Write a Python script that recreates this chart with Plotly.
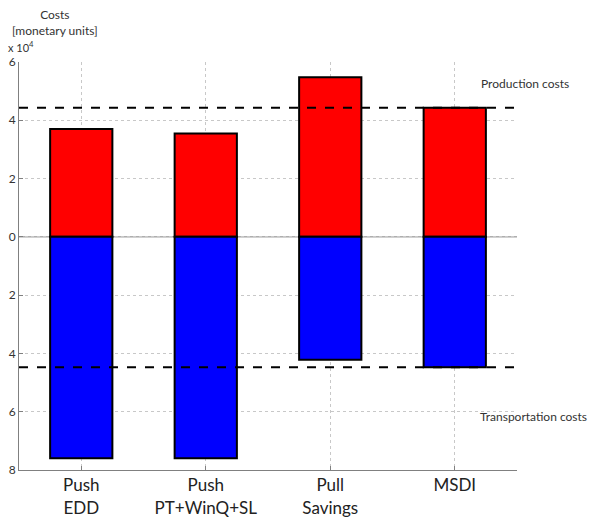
import plotly.graph_objects as go

categories = ["Push<br>EDD", "Push<br>PT+WinQ+SL", "Pull<br>Savings", "MSDI"]
positions = [1, 2, 3, 4]
production_costs = [3.70, 3.55, 5.48, 4.43]       # x 10^4
transportation_costs = [7.60, 7.60, 4.22, 4.47]   # x 10^4 (plotted downward)
production_ref = 4.43
transportation_ref = 4.47
ytick_vals = [-8, -6, -4, -2, 0, 2, 4, 6]
ytick_text = ["8", "6", "4", "2", "0", "2", "4", "6"]

FONT = "Lato"
L, R, T, B = 19, 74, 62, 49
PW = 591 - L - R
PH = 519 - T - B

fig = go.Figure()
fig.add_trace(go.Bar(
    x=positions, y=production_costs, base=0, width=0.5,
    marker=dict(color="#ff0000", line=dict(color="black", width=2)),
    showlegend=False, name="Production costs"))
fig.add_trace(go.Bar(
    x=positions, y=[-v for v in transportation_costs], base=0, width=0.5,
    marker=dict(color="#0000ff", line=dict(color="black", width=2)),
    showlegend=False, name="Transportation costs"))

for yv in [production_ref, -transportation_ref]:
    fig.add_shape(type="line", xref="x", yref="y", x0=0.5, x1=4.5, y0=yv, y1=yv,
                  line=dict(color="black", width=2, dash="dash"), layer="above")

fig.add_shape(type="line", xref="x", yref="y", x0=0.5, x1=4.5, y0=0, y1=0,
              line=dict(color="#808080", width=1), layer="below")

def px(xp):
    return (xp - L) / PW

def py(yp):
    return 1 - (yp - T) / PH

fig.update_layout(
    width=591, height=519,
    margin=dict(l=L, r=R, t=T, b=B),
    paper_bgcolor="white", plot_bgcolor="white",
    barmode="overlay",
    font=dict(family=FONT, color="#333333"),
    xaxis=dict(range=[0.5, 4.5], tickvals=positions, ticktext=categories,
               tickfont=dict(size=17, color="#222222"),
               showgrid=True, gridcolor="#c8c8c8", griddash="dot", gridwidth=1,
               showline=True, linecolor="#808080", linewidth=1,
               ticks="inside", ticklen=4, tickcolor="#808080",
               zeroline=False, fixedrange=True, automargin=False),
    yaxis=dict(range=[-8, 6], tickvals=ytick_vals, ticktext=ytick_text,
               tickfont=dict(size=12, color="#333333"),
               showgrid=True, gridcolor="#c8c8c8", griddash="dot", gridwidth=1,
               showline=True, linecolor="#808080", linewidth=1,
               ticks="inside", ticklen=4, tickcolor="#808080",
               zeroline=False, fixedrange=True, automargin=False),
    annotations=[
        dict(text="Costs<br>[monetary units]", x=px(55), y=py(23), xref="paper", yref="paper",
             xanchor="center", yanchor="middle",
             showarrow=False, font=dict(size=12, color="#333333")),
        dict(text="x 10<sup>4</sup>", xref="paper", yref="paper", x=px(7), y=py(55),
             xanchor="left", yanchor="bottom", showarrow=False, borderpad=0,
             font=dict(size=11, color="#333333")),
        dict(text="Production costs", xref="paper", yref="paper", x=px(571), y=py(83),
             xanchor="right", yanchor="middle", showarrow=False,
             font=dict(size=12, color="#333333")),
        dict(text="Transportation costs", xref="paper", yref="paper", x=px(589), y=py(416),
             xanchor="right", yanchor="middle", showarrow=False,
             font=dict(size=12, color="#333333")),
    ],
)

fig.write_html("out.html", config={"displayModeBar": False},
               post_script="document.body.style.margin='0';document.body.style.padding='0';document.body.style.overflow='hidden';")
